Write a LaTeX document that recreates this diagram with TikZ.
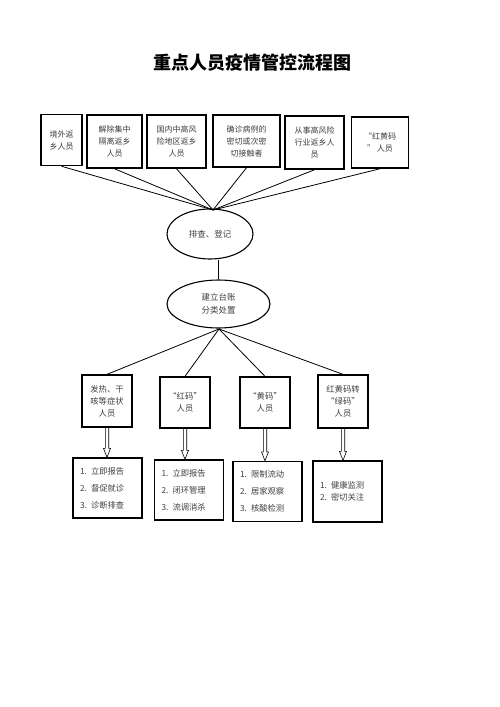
\documentclass[tikz,border=0pt]{standalone}
\usepackage{fontspec}
\setmainfont{Noto Sans CJK SC}
\usetikzlibrary{calc,shapes.geometric}
\tikzset{
  topbox/.style={draw, line width=1.5pt, align=center, font=\fontsize{8}{12}\selectfont, text=black!75, inner sep=0pt},
  midbox/.style={draw, line width=1.3pt, align=center, font=\fontsize{8.3}{12}\selectfont, text=black!75, inner sep=0pt, minimum width=50pt},
  lowbox/.style={draw, line width=1.3pt, align=left, font=\fontsize{8.3}{17}\selectfont, text=black!75, inner xsep=7pt, inner ysep=0pt, text width=55pt, minimum width=69pt, minimum height=60pt},
  oval/.style={draw, ellipse, line width=1.1pt, align=center, font=\fontsize{8.5}{13}\selectfont, text=black!75, inner sep=0pt},
  fan/.style={line width=0.8pt},
  hollow/.style={draw, line width=0.6pt, to path={let \p1=(\tikztostart), \p2=(\tikztotarget) in
    (\x1-1.7pt,\y1) -- (\x1-1.7pt,\y2+9pt) -- (\x1-3.5pt,\y2+9pt) -- (\x1,\y2) -- (\x1+3.5pt,\y2+9pt) -- (\x1+1.7pt,\y2+9pt) -- (\x1+1.7pt,\y1) \tikztonodes}}
}
\begin{document}
\begin{tikzpicture}[x=1pt,y=-1pt]
\useasboundingbox[fill=white] (0,0) rectangle (500,707);
\node[font=\fontsize{18}{20}\selectfont\bfseries] (title) at (252,63) {重点人员疫情管控流程图};
% top boxes
\node[topbox, minimum width=41pt, minimum height=51pt] (b1) at (61.5,140) {境外返\\乡人员};
\node[topbox, minimum width=55pt, minimum height=53pt] (b2) at (114.5,141.5) {解除集中\\隔离返乡\\人员};
\node[topbox, minimum width=59pt, minimum height=53pt] (b3) at (176.5,141.5) {国内中高风\\险地区返乡\\人员};
\node[topbox, minimum width=67pt, minimum height=52pt] (b4) at (246.5,141) {确诊病例的\\密切或次密\\切接触者};
\node[topbox, minimum width=59pt, minimum height=53pt] (b5) at (314.5,142.5) {从事高风险\\行业返乡人\\员};
\node[topbox, minimum width=57pt, minimum height=51pt] (b6) at (380,142.5) {“红黄码\\” 人员};
% ellipses
\node[oval, minimum width=86pt, minimum height=50pt] (e1) at (210,234) {排查、登记};
\node[oval, minimum width=103pt, minimum height=48pt] (e2) at (218.5,304) {建立台账\\分类处置};
\coordinate (c1) at (213,210);
\foreach \b in {b1,b2,b3,b4,b5,b6} \draw[fan] (\b.south) -- (c1);
\draw[fan] (e2.north) -- (e1.south -| e2.north);
% middle boxes
\node[midbox, minimum height=52pt] (m1) at (107,401) {发热、干\\咳等症状\\人员};
\node[midbox, minimum height=51pt] (m2) at (185,402.5) {“红码”\\人员};
\node[midbox, minimum height=51pt] (m3) at (265,402.5) {“黄码”\\人员};
\node[midbox, minimum height=53pt] (m4) at (343,401.5) {红黄码转\\“绿码”\\人员};
\coordinate (c2) at (219,329);
\foreach \m in {m1,m2,m3,m4} \draw[fan] (c2) -- (\m.north);
% lower boxes
\node[lowbox] (p1) at (107.5,488) {1. 立即报告\\2. 督促就诊\\3. 诊断排查};
\node[lowbox] (p2) at (189,490) {1. 立即报告\\2. 闭环管理\\3. 流调消杀};
\node[lowbox] (p3) at (267.5,491.5) {1. 限制流动\\2. 居家观察\\3. 核酸检测};
\node[lowbox, font=\fontsize{8.3}{12}\selectfont, minimum height=61pt] (p4) at (347.5,491.5) {1. 健康监测\\2. 密切关注};
\draw[hollow] (m1.south) to (m1.south |- p1.north);
\draw[hollow] (m2.south) to (m2.south |- p2.north);
\draw[hollow] (m3.south) to (m3.south |- p3.north);
\draw[hollow] (m4.south) to (m4.south |- p4.north);
\end{tikzpicture}
\end{document}
